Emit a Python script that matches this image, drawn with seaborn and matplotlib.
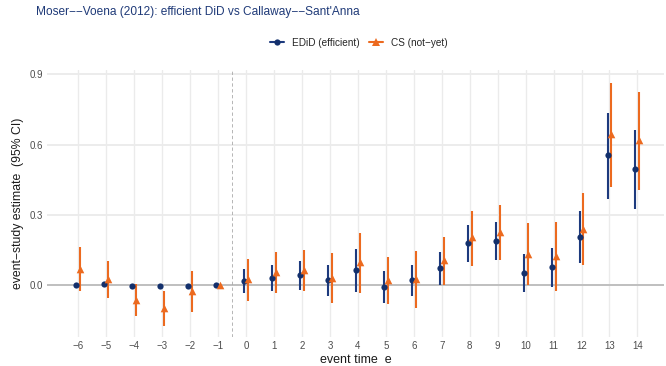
import numpy as np
import pandas as pd
import matplotlib
matplotlib.use("Agg")
import matplotlib.pyplot as plt
from matplotlib.lines import Line2D
import seaborn as sns

# Event-study estimates with 95% confidence bounds
event_time = list(range(-6, 15))

edid_est = [0.000, 0.004, -0.001, -0.002, -0.001, 0.000, 0.018, 0.031, 0.042, 0.021, 0.065,
            -0.007, 0.021, 0.074, 0.180, 0.188, 0.054, 0.078, 0.207, 0.555, 0.495]
edid_lo = [0.000, 0.004, -0.001, -0.002, -0.001, 0.000, -0.034, -0.023, -0.018, -0.045, -0.027,
           -0.075, -0.045, 0.000, 0.100, 0.106, -0.028, -0.007, 0.095, 0.369, 0.324]
edid_hi = [0.000, 0.004, -0.001, -0.002, -0.001, 0.000, 0.069, 0.085, 0.103, 0.088, 0.156,
           0.061, 0.088, 0.143, 0.258, 0.270, 0.133, 0.161, 0.318, 0.737, 0.664]

cs_est = [0.070, 0.026, -0.063, -0.095, -0.023, 0.000, 0.027, 0.055, 0.065, 0.033, 0.098,
          0.024, 0.028, 0.106, 0.204, 0.226, 0.134, 0.126, 0.242, 0.645, 0.620]
cs_lo = [-0.024, -0.056, -0.131, -0.172, -0.114, 0.000, -0.065, -0.034, -0.023, -0.076, -0.031,
         -0.078, -0.095, 0.000, 0.083, 0.106, 0.000, -0.024, 0.086, 0.420, 0.408]
cs_hi = [0.165, 0.104, 0.004, -0.024, 0.062, 0.000, 0.112, 0.142, 0.149, 0.137, 0.221,
         0.122, 0.147, 0.204, 0.318, 0.344, 0.266, 0.272, 0.393, 0.863, 0.826]

series_names = ["EDiD (efficient)", "CS (not\u2212yet)"]
y_ticks = [0.0, 0.3, 0.6, 0.9]

colors = {series_names[0]: "#13306C", series_names[1]: "#EC6A1F"}
line_colors = {series_names[0]: "#1D3A7E", series_names[1]: "#EC6A1F"}
markers = {series_names[0]: "o", series_names[1]: "^"}
point_sizes = {series_names[0]: 20, series_names[1]: 30}
dodge = {series_names[0]: -0.07, series_names[1]: 0.07}

df = pd.concat([
    pd.DataFrame({"e": event_time, "est": edid_est, "lo": edid_lo, "hi": edid_hi,
                  "series": series_names[0]}),
    pd.DataFrame({"e": event_time, "est": cs_est, "lo": cs_lo, "hi": cs_hi,
                  "series": series_names[1]}),
], ignore_index=True)
df["xpos"] = df["e"] + df["series"].map(dodge)

sns.set_theme(style="white")
plt.rcParams["font.family"] = ["Liberation Sans", "DejaVu Sans"]

fig = plt.figure(figsize=(6.66, 3.66), dpi=100)
ax = fig.add_axes([47 / 666, 1 - 337 / 366, (664 - 47) / 666, (337 - 70) / 366])

# grid
for e in event_time:
    ax.axvline(e, color="#ebebeb", lw=1.0, zorder=0)
for t in y_ticks:
    ax.axhline(t, color="#ebebeb", lw=1.3, zorder=0)

ax.axhline(0, color="#b3b3b3", lw=1.1, zorder=1)
ax.axvline(-0.5, color="#aaaaaa", lw=0.6, ls=(0, (4, 3)), zorder=1)

# confidence intervals and point estimates
for name in series_names:
    sub = df[df["series"] == name]
    ax.vlines(sub["xpos"], sub["lo"], sub["hi"], colors=line_colors[name], lw=1.5, zorder=2)
    sns.scatterplot(data=sub, x="xpos", y="est", color=colors[name], marker=markers[name],
                    s=point_sizes[name], linewidth=0, legend=False, ax=ax, zorder=3)

ax.set_xlim(-7.12, 14.95)
ax.set_ylim(-0.2206, 0.9185)
ax.set_xticks(event_time)
ax.set_xticklabels([str(e).replace("-", "\u2212") for e in event_time])
ax.set_yticks(y_ticks)
ax.set_yticklabels([f"{t:.1f}" for t in y_ticks])
ax.tick_params(axis="both", length=0, labelsize=7, labelcolor="#4d4d4d", pad=3)
for s in ax.spines.values():
    s.set_visible(False)
ax.grid(False)

ax.set_xlabel("event time  e", fontsize=9, color="#1a1a1a", labelpad=2)
ax.set_ylabel("event\u2212study estimate  (95% CI)", fontsize=8.8, color="#1a1a1a", labelpad=4)

fig.text(36 / 666, 1 - 12 / 366, "Moser\u2212\u2212Voena (2012): efficient DiD vs Callaway\u2212\u2212Sant'Anna",
         fontsize=8.6, color="#1F3A78", ha="left", va="center")

handles = [Line2D([0], [0], color=line_colors[n], marker=markers[n],
                  markerfacecolor=colors[n], markersize=4.5 if n == series_names[0] else 5.5,
                  lw=1.5, markeredgewidth=0) for n in series_names]
fig.legend(handles, series_names, loc="center", bbox_to_anchor=(359 / 666, 1 - 42.5 / 366),
           ncol=2, frameon=False, fontsize=7.2, handlelength=1.4, handletextpad=0.8,
           columnspacing=0.9)

fig.savefig("out.png", dpi=100)
